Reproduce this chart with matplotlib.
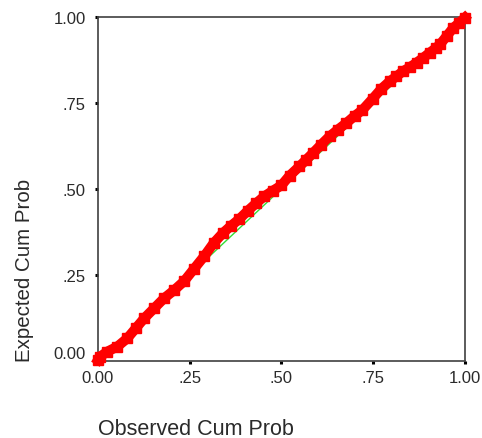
import matplotlib
matplotlib.use("Agg")
import matplotlib.pyplot as plt
import matplotlib.transforms as mtransforms

plt.rcParams['font.family'] = ['Liberation Sans', 'DejaVu Sans']

# Observed vs expected cumulative probabilities (P-P plot)
observed_cum_prob = [0.000, 0.005, 0.025, 0.053, 0.080, 0.103, 0.126, 0.153, 0.180, 0.208,
                     0.235, 0.262, 0.290, 0.315, 0.340, 0.362, 0.385, 0.408, 0.431, 0.453,
                     0.476, 0.500, 0.522, 0.549, 0.567, 0.586, 0.608, 0.631, 0.654, 0.677,
                     0.700, 0.720, 0.749, 0.772, 0.795, 0.813, 0.831, 0.850, 0.868, 0.886,
                     0.904, 0.920, 0.932, 0.950, 0.968, 0.985, 1.000]
expected_cum_prob = [0.003, 0.012, 0.027, 0.042, 0.066, 0.095, 0.124, 0.153, 0.182, 0.206,
                     0.232, 0.268, 0.305, 0.342, 0.371, 0.392, 0.412, 0.436, 0.458, 0.478,
                     0.494, 0.510, 0.538, 0.565, 0.584, 0.604, 0.628, 0.652, 0.672, 0.691,
                     0.712, 0.728, 0.762, 0.790, 0.812, 0.826, 0.841, 0.853, 0.866, 0.880,
                     0.895, 0.908, 0.919, 0.943, 0.967, 0.982, 0.997]

tick_values = [0.0, 0.25, 0.5, 0.75, 1.0]
tick_labels = ["0.00", ".25", ".50", ".75", "1.00"]
reference_line = [0.0, 1.0]

fig = plt.figure(figsize=(4.82, 4.39), dpi=100)
ax = fig.add_axes([0.2033, 0.1754, 0.7614, 0.7847])

ax.plot(reference_line, reference_line, color='#33dd33', lw=1.0, zorder=2)
ax.plot(observed_cum_prob, expected_cum_prob, color='#ff0000', lw=7.2,
        marker='s', ms=6.5, mec='#ff0000', mfc='#ff0000',
        solid_joinstyle='miter', clip_on=False, zorder=3)

ax.set_xlim(0, 1)
ax.set_ylim(0, 1)
ax.set_xticks(tick_values)
ax.set_xticklabels(tick_labels)
ax.set_yticks(tick_values)
ax.set_yticklabels(tick_labels)

for s in ax.spines.values():
    s.set_color('#404040')
    s.set_linewidth(1.2)

ax.tick_params(axis='both', direction='out', length=2.2, width=2.2,
               color='black', labelsize=12, labelcolor='#2a2a2a')
ax.tick_params(axis='x', pad=4)
ax.tick_params(axis='y', pad=6.5)

# lift the bottom y label clear of the x axis
first = ax.get_yticklabels()[0]
first.set_transform(first.get_transform() +
                    mtransforms.ScaledTranslation(0, 9 / 100, fig.dpi_scale_trans))

fig.text(0.2033, 0.01, "Observed Cum Prob", ha='left', va='baseline',
         fontsize=15.5, color='#2a2a2a')
fig.text(0.05, 0.1754, "Expected Cum Prob", ha='center', va='bottom',
         rotation=90, fontsize=14.8, color='#2a2a2a')

fig.savefig("out.png", dpi=100, facecolor='white')
